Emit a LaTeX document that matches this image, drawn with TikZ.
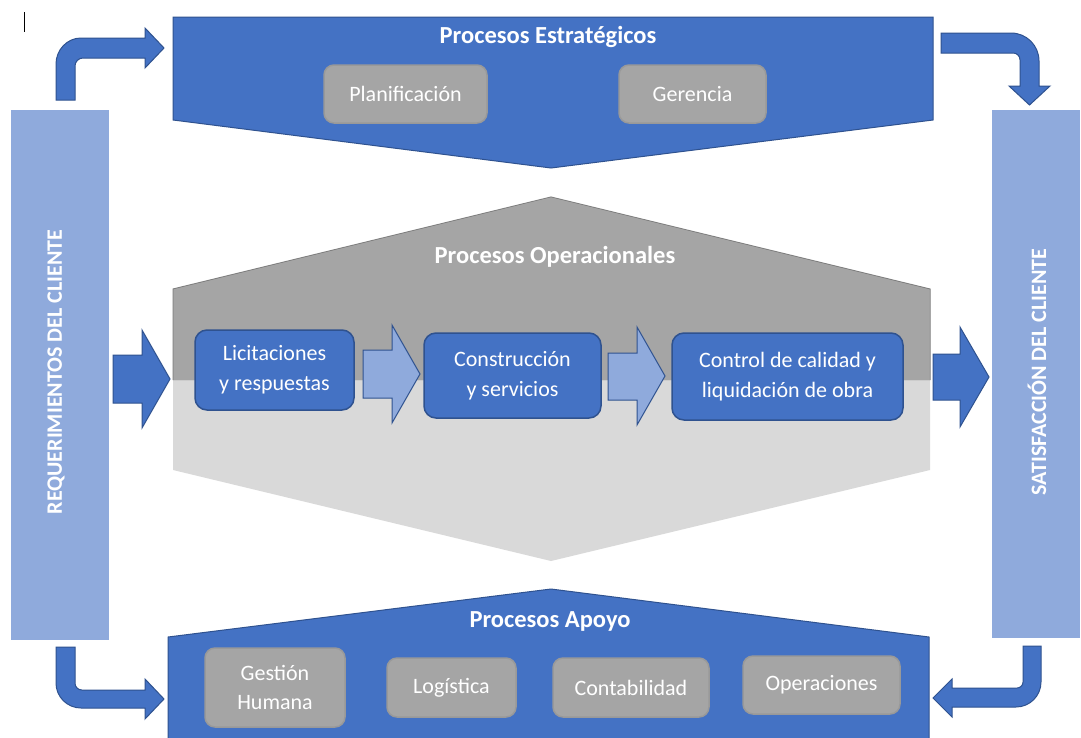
\documentclass[tikz,border=0pt]{standalone}
\usepackage{fontspec}
\setmainfont{Carlito}
\definecolor{bluemain}{HTML}{4472C4}
\definecolor{blueedge}{HTML}{2F528F}
\definecolor{bluelight}{HTML}{8FAADC}
\definecolor{graydark}{HTML}{A5A5A5}
\definecolor{graylight}{HTML}{D9D9D9}
\definecolor{grayedge}{HTML}{7F7F7F}
\begin{document}
\begin{tikzpicture}[x=1pt,y=-1pt,
  bluebox/.style={draw=blueedge, line width=1.5pt, fill=bluemain, rounded corners=12pt,
    text=white, align=center, font=\fontsize{22}{30}\selectfont, inner sep=0pt},
  graybox/.style={draw=grayedge!80, line width=1.5pt, fill=graydark, rounded corners=10pt,
    text=white, align=center, font=\fontsize{22}{29}\selectfont, inner sep=0pt},
  titletext/.style={text=white, font=\bfseries\fontsize{24.5}{28}\selectfont, inner sep=0pt},
  sidetext/.style={text=white, font=\bfseries\fontsize{22}{24}\selectfont, rotate=90, inner sep=0pt},
  darkarrow/.style={fill=bluemain, draw=blueedge, line width=1pt},
  lightarrow/.style={fill=bluelight, draw=blueedge, line width=1pt}]
\clip (0,0) rectangle (1081,737);
\fill[white] (0,0) rectangle (1081,737);

% cursor mark
\draw[black, line width=0.8pt] (24,12) -- (24,32);

% side bars
\fill[bluelight] (11,110) rectangle (109,640);
\fill[bluelight] (992,110) rectangle (1080,638);
\node[sidetext] (req) at (56,372) {REQUERIMIENTOS DEL CLIENTE};
\node[sidetext] (sat) at (1037,372) {SATISFACCIÓN DEL CLIENTE};

% strategic pentagon
\draw[fill=bluemain, draw=blueedge, line width=1pt] (173,17) -- (933,17) -- (933,120) -- (551,168) -- (173,120) -- cycle;
\node[titletext] (est) at (548,37) {Procesos Estratégicos};
\node[graybox, minimum width=163pt, minimum height=58pt] (plan) at (405.5,94) {Planificación};
\node[graybox, minimum width=147pt, minimum height=58pt] (ger) at (692.5,94) {Gerencia};

% operational hexagon
\fill[graylight] (173,380) -- (930,380) -- (930,470) -- (551,561) -- (173,470) -- cycle;
\draw[fill=graydark, draw=grayedge, line width=1pt] (173,380) -- (173,289) -- (551,197) -- (930,289) -- (930,380);
\fill[graydark] (173.5,380) -- (173.5,289.5) -- (551,197.5) -- (929.5,289.5) -- (929.5,380) -- cycle;
\node[titletext] (ope) at (555,257) {Procesos Operacionales};

\node[bluebox, minimum width=159pt, minimum height=80pt] (lic) at (274.5,370) {Licitaciones\\y respuestas};
\node[bluebox, minimum width=177pt, minimum height=85pt] (con) at (512.5,375.5) {Construcción\\y servicios};
\node[bluebox, minimum width=231pt, minimum height=87pt] (ctl) at (787.5,376.5) {Control de calidad y\\liquidación de obra};

% block arrows
\draw[darkarrow] (113,355) -- (142,355) -- (142,330) -- (170,379) -- (142,428) -- (142,403) -- (113,403) -- cycle;
\draw[lightarrow] (363,350) -- (392,350) -- (392,325) -- (420,374) -- (392,423) -- (392,398) -- (363,398) -- cycle;
\draw[lightarrow] (608,353) -- (637,353) -- (637,327) -- (665,376) -- (637,425) -- (637,400) -- (608,400) -- cycle;
\draw[darkarrow] (933,354) -- (960,354) -- (960,327) -- (989,377) -- (960,427) -- (960,400) -- (933,400) -- cycle;

% support pentagon
\draw[fill=bluemain, draw=blueedge, line width=1pt] (168,745) -- (168,637) -- (551,589) -- (929,637) -- (929,745);
\node[titletext] (apo) at (550,621) {Procesos Apoyo};
\node[graybox, minimum width=140pt, minimum height=79pt] (gh) at (275,687.5) {Gestión\\Humana};
\node[graybox, minimum width=129pt, minimum height=59pt] (log) at (451.5,687.5) {Logística};
\node[graybox, minimum width=156pt, minimum height=59pt] (cont) at (631,687.5) {Contabilidad};
\node[graybox, minimum width=157pt, minimum height=58pt] (oper) at (821.5,685) {Operaciones};

% bent arrows
\draw[darkarrow] (56,100) -- (56,64) .. controls (56,50) and (67,38) .. (81,38) -- (145,38) -- (145,28) -- (164,48) -- (145,68) -- (145,58) -- (83,58) .. controls (78.6,58) and (75,61.6) .. (75,66) -- (75,100) -- cycle;
\draw[darkarrow] (941,33) -- (1011,33) .. controls (1026.5,33) and (1039,45.5) .. (1039,61) -- (1039,86) -- (1050,86) -- (1029.5,105) -- (1009,86) -- (1020,86) -- (1020,60) .. controls (1020,56) and (1017,53) .. (1013,53) -- (941,53) -- cycle;
\draw[darkarrow] (56,647) -- (56,683) .. controls (56,696.8) and (67.2,708) .. (81,708) -- (145,708) -- (145,719) -- (164,699) -- (145,679) -- (145,690) -- (82,690) .. controls (78,690) and (75,687) .. (75,683) -- (75,647) -- cycle;
\draw[darkarrow] (1041,646) -- (1041,682) .. controls (1041,695.8) and (1029.8,707) .. (1016,707) -- (952,707) -- (952,717) -- (933,698) -- (952,679) -- (952,688) -- (1017,688) .. controls (1020.3,688) and (1023,685.3) .. (1023,682) -- (1023,646) -- cycle;
\end{tikzpicture}
\end{document}
